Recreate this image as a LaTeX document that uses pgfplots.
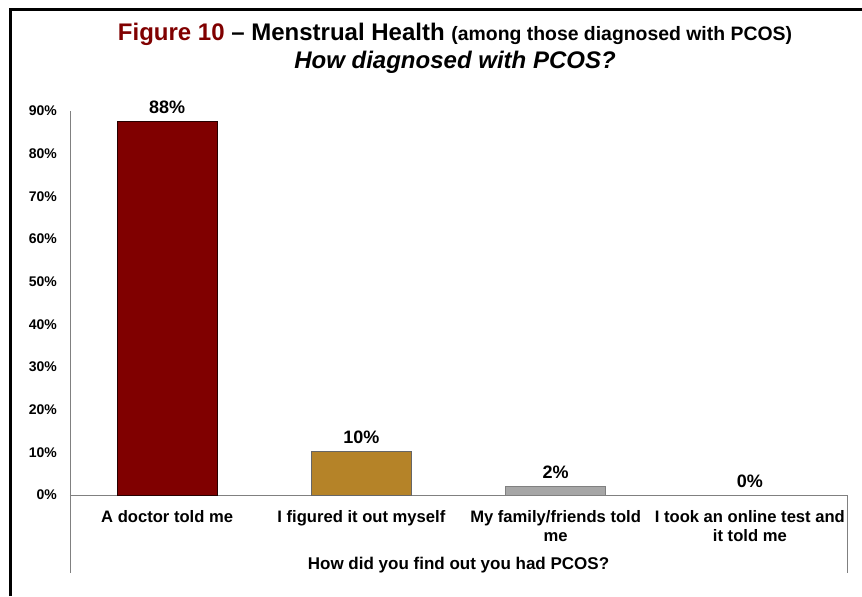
\documentclass[border=0pt]{standalone}
\usepackage{fontspec}
\setmainfont{Liberation Sans}
\usepackage{pgfplots}
\pgfplotsset{compat=1.18}

\definecolor{figred}{RGB}{128,0,0}
\definecolor{bargold}{RGB}{181,131,40}
\definecolor{bargray}{RGB}{166,166,166}
\definecolor{axisgray}{RGB}{128,128,128}

\begin{document}
\begin{tikzpicture}
\useasboundingbox (0,0) rectangle (431pt,298pt);
% frame of the slide
\draw[line width=1.5pt] (5pt,0) -- (5pt,293pt) -- (431pt,293pt);

% title
\node[anchor=center] at (227.5pt,281pt) {\bfseries\fontsize{12}{14}\selectfont
  \textcolor{figred}{Figure 10} -- Menstrual Health {\fontsize{9.7}{12}\selectfont(among those diagnosed with PCOS)}};
\node[anchor=center] at (227.5pt,267pt) {\bfseries\itshape\fontsize{12}{14}\selectfont How diagnosed with PCOS?};

\begin{axis}[
    at={(35pt,50.5pt)}, anchor=south west,
    scale only axis,
    width=388.5pt, height=192pt,
    xmin=-0.5, xmax=3.5,
    ymin=0, ymax=90,
    axis x line=bottom, axis y line=left,
    axis line style={axisgray, -},
    major tick length=0pt,
    ybar, bar width=50pt, bar shift=0pt,
    xtick={0,1,2,3},
    xticklabels={A doctor told me, I figured it out myself, {My family/friends told\\me}, {I took an online test and\\it told me}},
    x tick label style={font=\bfseries\fontsize{8.3}{9.5}\selectfont, align=center, anchor=north, yshift=-4pt},
    ytick={0,10,20,30,40,50,60,70,80,90},
    yticklabels={0\%,10\%,20\%,30\%,40\%,50\%,60\%,70\%,80\%,90\%},
    y tick label style={font=\bfseries\fontsize{7}{8}\selectfont, xshift=-3pt},
    xlabel={How did you find out you had PCOS?},
    xlabel style={font=\bfseries\fontsize{8.5}{10}\selectfont, at={(rel axis cs:0.5,0)}, anchor=center, yshift=-35pt},
    nodes near coords,
    point meta=explicit symbolic,
    every node near coord/.style={font=\bfseries\fontsize{9}{10}\selectfont, black, anchor=south, yshift=0pt},
    clip=false,
]
\addplot[fill=figred, draw=black!70!figred, line width=0.4pt] coordinates {(0,87.6) [88\%]};
\addplot[fill=bargold, draw=black!60, line width=0.4pt] coordinates {(1,10.3) [10\%]};
\addplot[fill=bargray, draw=black!50, line width=0.4pt] coordinates {(2,2.1) [2\%]};
\addplot[fill=none, draw=none] coordinates {(3,0) [0\%]};
\draw[axisgray] (rel axis cs:0,0) -- ++(0pt,-39pt);
\draw[axisgray] (rel axis cs:1,0) -- ++(0pt,-39pt);
\end{axis}
\end{tikzpicture}
\end{document}
